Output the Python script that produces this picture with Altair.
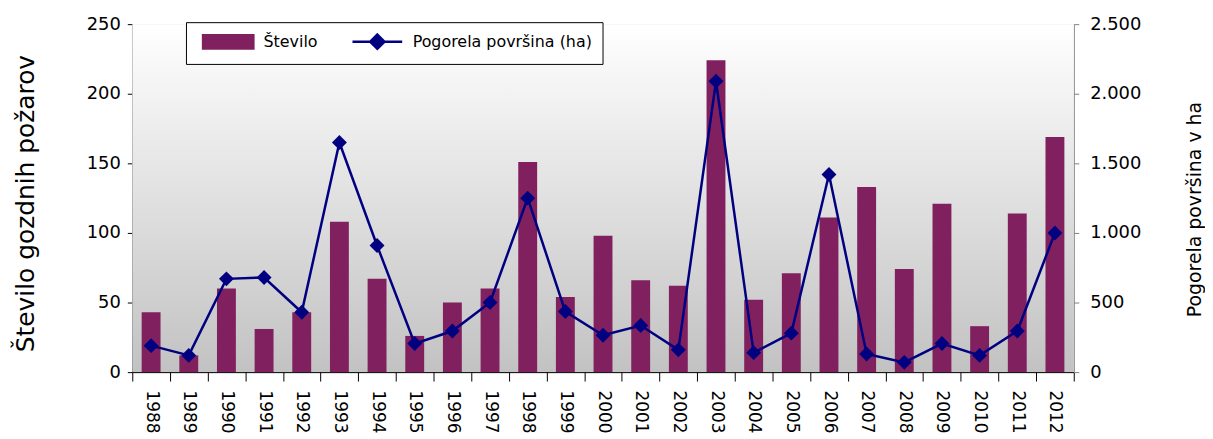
import altair as alt
import pandas as pd

# ---- data ----
years = ["1988", "1989", "1990", "1991", "1992", "1993", "1994", "1995", "1996",
         "1997", "1998", "1999", "2000", "2001", "2002", "2003", "2004", "2005",
         "2006", "2007", "2008", "2009", "2010", "2011", "2012"]
fires = [43, 12, 60, 31, 43, 108, 67, 26, 50, 60, 151, 54, 98, 66, 62, 224, 52,
         71, 111, 133, 74, 121, 33, 114, 169]
burned = [190, 120, 670, 680, 430, 1650, 910, 205, 295, 500, 1250, 435, 265, 335,
          160, 2090, 140, 280, 1420, 130, 70, 205, 120, 295, 1000]
left_ticks = [0, 50, 100, 150, 200, 250]
right_ticks = [0, 500, 1000, 1500, 2000, 2500]
S1 = "Število"
S2 = "Pogorela površina (ha)"

W, H = 947, 350
FONT = "DejaVu Sans"
BAR = "#80205F"
LINE = "#000080"

df_bar = pd.DataFrame({"leto": years, "vrednost": fires, "serija": S1})
df_line = pd.DataFrame({"leto": years, "vrednost": burned, "serija": S2})

x_enc = alt.X(
    "leto:O", sort=years,
    scale=alt.Scale(paddingInner=0, paddingOuter=0),
    axis=alt.Axis(title=None, labelAngle=90, labelFont=FONT, labelFontSize=17,
                  labelPadding=9, labelColor="#000", tickBand="extent", tickSize=9,
                  tickColor="#000", domainColor="#000", grid=False),
)

y_left = alt.Y(
    "vrednost:Q",
    scale=alt.Scale(domain=[0, 250], nice=False),
    axis=alt.Axis(orient="left", values=left_ticks, grid=False,
                  title="Število gozdnih požarov", titleFont=FONT, titleFontSize=25,
                  titleFontWeight="normal", titleColor="#000", titleAngle=270,
                  titleBaseline="alphabetic", titleX=-99, titleY=180,
                  labelFont=FONT, labelFontSize=18, labelColor="#000", labelPadding=7,
                  tickSize=5, tickColor="#000", domainColor="#000"),
)

y_right = alt.Y(
    "vrednost:Q",
    scale=alt.Scale(domain=[0, 2500], nice=False),
    axis=alt.Axis(orient="right", values=right_ticks, grid=False,
                  labelExpr="replace(format(datum.value, ','), ',', '.')",
                  title="Pogorela površina v ha", titleFont=FONT, titleFontSize=19,
                  titleFontWeight="normal", titleColor="#000", titleAngle=270,
                  titleBaseline="alphabetic", titleX=127, titleY=186,
                  labelFont=FONT, labelFontSize=18, labelColor="#000", labelPadding=11,
                  tickSize=5, tickColor="#808080", domainColor="#808080"),
)

legend = alt.Legend(
    title=None, orient="none", legendX=54, legendY=-2, direction="horizontal",
    fillColor="white", strokeColor="black", padding=10,
    labelFont=FONT, labelFontSize=16, labelColor="#000", labelLimit=400,
    symbolSize=256, symbolStrokeWidth=2.5, symbolOffset=23, labelOffset=26,
    columnPadding=27,
)

color_scale = alt.Scale(domain=[S1, S2], range=[BAR, LINE])
stroke_scale = alt.Scale(domain=[S1, S2], range=[BAR, LINE])
shape_scale = alt.Scale(
    domain=[S1, S2],
    range=["M-3.16,-0.84H3.16V0.84H-3.16Z",
           "M-3.125,0H3.125M0,-0.9L0.9,0L0,0.9L-0.9,0Z"],
)

bg = alt.Chart(pd.DataFrame({"d": [0]})).mark_rect(
    color=alt.LinearGradient(
        gradient="linear",
        stops=[alt.GradientStop(color="#FFFFFF", offset=0),
               alt.GradientStop(color="#C2C2C2", offset=1)],
        x1=0, x2=0, y1=0, y2=1,
    )
).encode(x=alt.value(0), x2=alt.value(W), y=alt.value(0), y2=alt.value(H))

bars = alt.Chart(df_bar).mark_bar(size=19).encode(
    x=x_enc, y=y_left,
    color=alt.Color("serija:N", scale=color_scale, legend=legend),
)

line = alt.Chart(df_line).mark_line(color=LINE, strokeWidth=2.5).encode(x=x_enc, y=y_right)
pts = alt.Chart(df_line).mark_point(shape="diamond", filled=True, size=225,
                                    color=LINE, opacity=1).encode(x=x_enc, y=y_right)
leg = alt.Chart(df_line).mark_point(filled=True, size=0, opacity=1).encode(
    x=x_enc, y=y_right,
    color=alt.Color("serija:N", scale=color_scale, legend=legend),
    stroke=alt.Stroke("serija:N", scale=stroke_scale, legend=legend),
    shape=alt.Shape("serija:N", scale=shape_scale, legend=legend),
)

left = alt.layer(bg, bars)
right = alt.layer(line, pts, leg)

chart = alt.layer(left, right).resolve_scale(y="independent").properties(
    width=W, height=H,
    autosize=alt.AutoSizeParams(type="none"),
    padding={"left": 125, "top": 15, "right": 132, "bottom": 60},
).configure_view(strokeWidth=0).configure(font=FONT)

chart.save("out.html", embed_options={"renderer": "svg", "actions": False})
